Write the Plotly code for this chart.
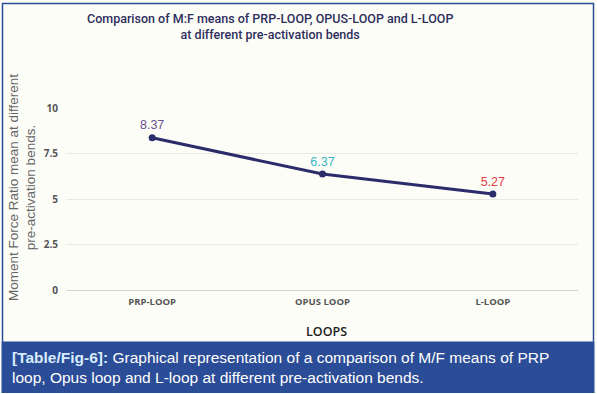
import plotly.graph_objects as go

categories = ["PRP-LOOP", "OPUS LOOP", "L-LOOP"]
values = [8.37, 6.37, 5.27]
label_colors = ["#6b4f8f", "#3ab5c6", "#e23b3b"]
y_ticks = [0, 2.5, 5, 7.5, 10]
y_tick_text = ["0", "2.5", "5", "7.5", "10"]

W, H = 597, 394
L, R, T, B = 67, 19, 107.5, 103.5
PW = W - L - R
PH = H - T - B


def px(x):
    return (x - L) / PW


def py(y):
    return (H - B - y) / PH


fig = go.Figure()
fig.add_trace(go.Scatter(
    x=categories, y=values, mode="lines+markers+text",
    text=[f"{v:.2f}" for v in values],
    textposition="top center",
    textfont=dict(size=12.5, color=label_colors, family="Liberation Sans"),
    line=dict(color="#2b2d6b", width=3),
    marker=dict(color="#2b2d6b", size=7),
    cliponaxis=False, showlegend=False, hoverinfo="skip",
))

navy = "#2b4c96"
fig.update_layout(
    width=W, height=H,
    margin=dict(l=L, r=R, t=T, b=B),
    paper_bgcolor="#fdfdf8", plot_bgcolor="#fdfdf8",
    font=dict(family="Liberation Sans"),
    xaxis=dict(range=[-0.5, 2.5], showgrid=False, zeroline=False,
               showline=False, ticklabelstandoff=4,
               tickfont=dict(size=9.5, color="#555555", family="Open Sans", weight="bold")),
    yaxis=dict(range=[0, 10], tickvals=y_ticks, ticktext=y_tick_text,
               gridcolor="#e8e8e2", gridwidth=1, zeroline=True,
               zerolinecolor="#d2d2cc", zerolinewidth=1, showline=False,
               ticklabelstandoff=8,
               tickfont=dict(size=10, color="#555555", family="Open Sans", weight="bold")),
    shapes=[
        dict(type="rect", xref="paper", yref="paper",
             x0=px(2.5), x1=px(593.5), y0=py(343), y1=py(2.5),
             line=dict(color=navy, width=1.5), fillcolor="rgba(0,0,0,0)", layer="below"),
        dict(type="rect", xref="paper", yref="paper",
             x0=px(1.5), x1=px(594.5), y0=py(394), y1=py(343),
             line=dict(width=0), fillcolor=navy, layer="above"),
    ],
    annotations=[
        dict(text="Comparison of M:F means of PRP-LOOP, OPUS-LOOP and L-LOOP<br>at different pre-activation bends",
             xref="paper", yref="paper", x=px(270), y=py(26), xanchor="center", yanchor="middle",
             showarrow=False, align="center",
             font=dict(size=12.5, color="#2e2f5c", family="Roboto", weight=500)),
        dict(text="Moment Force Ratio mean at different<br>pre-activation bends.",
             xref="paper", yref="paper", x=px(22), y=py(188), xanchor="center", yanchor="middle",
             showarrow=False, align="center", textangle=-90,
             font=dict(size=13.5, color="#666666", family="Liberation Sans")),
        dict(text="LOOPS", xref="paper", yref="paper", x=px(326), y=py(332),
             xanchor="center", yanchor="middle", showarrow=False,
             font=dict(size=12.5, color="#222222", family="Open Sans", weight=600)),
        dict(text="<b><span style='color:#d8ecff'>[Table/Fig-6]:</span></b> Graphical representation of a comparison of M/F means of PRP<br>loop, Opus loop and L-loop at different pre-activation bends.",
             xref="paper", yref="paper", x=px(10), y=py(368), xanchor="left", yanchor="middle",
             showarrow=False, align="left",
             font=dict(size=15.5, color="#ffffff", family="Liberation Sans")),
    ],
)

fig.write_html("out.html", config={"displayModeBar": False},
               post_script="document.body.style.margin='0';")
